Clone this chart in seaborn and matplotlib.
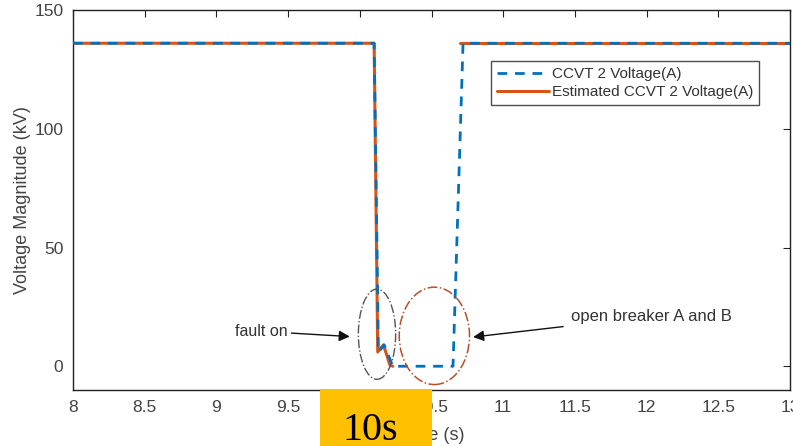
import numpy as np
import pandas as pd
import seaborn as sns
import matplotlib.pyplot as plt
from matplotlib.patches import Ellipse, Rectangle
from matplotlib.lines import Line2D

sns.set_theme(style="white")
plt.rcParams['font.family'] = ['Liberation Sans', 'DejaVu Sans']

# measured CCVT 2 voltage (phase A)
t_meas = [8.0, 10.10, 10.13, 10.17, 10.23, 10.65, 10.72, 13.0]
v_meas = [136, 136, 6, 9, 0, 0, 136, 136]

# estimated voltage, drawn in two pieces (gap while breaker is open)
t_est1 = [8.0, 10.10, 10.125, 10.165, 10.21, 10.23]
v_est1 = [136, 136, 6, 9, 0.5, 0]
t_est2 = [10.70, 13.0]
v_est2 = [136, 136]

x_ticks = [8, 8.5, 9, 9.5, 10, 10.5, 11, 11.5, 12, 12.5, 13]
x_ticklabels = ["8", "8.5", "9", "9.5", "10", "10.5", "11", "11.5", "12", "12.5", "13"]
y_ticks = [0, 50, 100, 150]

blue = "#0072BD"
orange = "#D95319"
txt = "#444444"

fig = plt.figure(figsize=(7.93, 4.46), dpi=100)
ax = fig.add_axes([73 / 793, 56 / 446, 717 / 793, 380 / 446])

sns.lineplot(x=t_est1, y=v_est1, ax=ax, color=orange, lw=2.2, estimator=None, sort=False, zorder=2)
sns.lineplot(x=t_est2, y=v_est2, ax=ax, color=orange, lw=2.2, estimator=None, sort=False, zorder=2)
sns.lineplot(x=t_meas, y=v_meas, ax=ax, color=blue, lw=2.0, estimator=None, sort=False,
             linestyle=(0, (3.5, 2.8)), zorder=3)

ax.set_xlim(8, 13)
ax.set_ylim(-10, 150)
ax.set_xticks(x_ticks)
ax.set_xticklabels(x_ticklabels)
ax.set_yticks(y_ticks)
ax.tick_params(direction="in", top=True, right=True, length=5, width=0.8,
               labelsize=12.5, colors="#222", labelcolor=txt, pad=7)
for s in ax.spines.values():
    s.set_color("#222")
    s.set_linewidth(1.0)
ax.set_xlabel("Time (s)", fontsize=13, color=txt, labelpad=9)
ax.set_ylabel("Voltage Magnitude (kV)", fontsize=13, color=txt, labelpad=2)

# ellipses marking events
ax.add_patch(Ellipse((10.12, 13.5), 0.26, 38, fill=False, ec="#555555", lw=1.0,
                     linestyle="-.", zorder=4))
ax.add_patch(Ellipse((10.52, 12.8), 0.49, 41, fill=False, ec="#B5502A", lw=1.1,
                     linestyle="-.", zorder=4))

ax.annotate("fault on", xy=(9.93, 12.5), xytext=(9.50, 14.7), fontsize=11.5, color="#333",
            ha="right", va="center",
            arrowprops=dict(arrowstyle="-|>", color="#111", lw=1.0, mutation_scale=16,
                            shrinkA=0, shrinkB=0))
ax.annotate("open breaker A and B", xy=(10.79, 12.3), xytext=(11.47, 21), fontsize=12,
            color="#333", ha="left", va="center",
            arrowprops=dict(arrowstyle="-|>", color="#111", lw=1.0, mutation_scale=16,
                            shrinkA=3, shrinkB=0))

handles = [Line2D([], [], color=blue, lw=2.0, linestyle=(0, (3.5, 2.8))),
           Line2D([], [], color=orange, lw=2.2)]
leg = ax.legend(handles, ["CCVT 2 Voltage(A)", "Estimated CCVT 2 Voltage(A)"],
                loc="upper right", bbox_to_anchor=(0.957, 0.866), fontsize=11,
                frameon=True, fancybox=False, borderpad=0.4, handlelength=3.4,
                handletextpad=0.2, labelspacing=0.25, borderaxespad=0)
leg.get_frame().set_edgecolor("#222")
leg.get_frame().set_linewidth(1.0)
for t in leg.get_texts():
    t.set_color("#333")

# yellow label box over the x axis
fig.patches.append(Rectangle((320 / 793, 0), 112 / 793, 57 / 446, transform=fig.transFigure,
                             facecolor="#FFC000", edgecolor="none", zorder=10))
fig.text(370 / 793, 6 / 446, "10s", family=["Liberation Serif", "DejaVu Serif"],
         fontsize=29, color="black", ha="center", va="baseline", zorder=11)

fig.savefig("out.png", dpi=100)
